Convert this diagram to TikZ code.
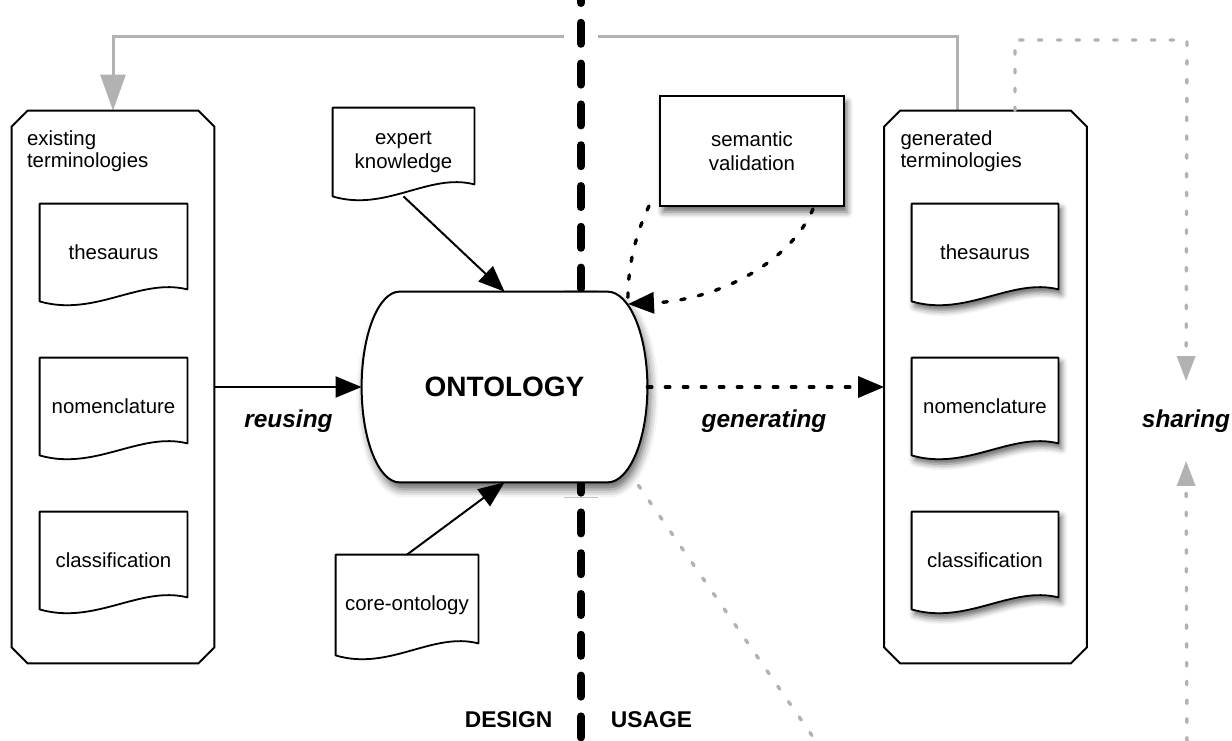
\documentclass[tikz,border=0pt]{standalone}
\usepackage{fontspec}
\setmainfont{Liberation Sans}
\usetikzlibrary{arrows.meta,calc,shadows.blur}
\definecolor{flowgray}{RGB}{178,178,178}
\pgfdeclarelayer{background}
\pgfsetlayers{background,main}
%document symbol round a node
\newcommand{\docshape}[2][]{%
  \draw[docline,#1] (#2.north west) -- (#2.north east) -- ($(#2.south east)+(0,-12)$)
    .. controls ($(#2.south west)!0.68!(#2.south east)+(0,-24)$) and ($(#2.south west)!0.374!(#2.south east)+(0,16)$) .. (#2.south west) -- cycle;}
%chamfered frame round a node
\newcommand{\chamfbox}[1]{%
  \draw[line width=1pt,line join=round] ($(#1.north west)+(16,0)$) -- ($(#1.north east)+(-16,0)$) -- ($(#1.north east)+(0,16)$)
    -- ($(#1.south east)+(0,-16)$) -- ($(#1.south east)+(-16,0)$) -- ($(#1.south west)+(16,0)$)
    -- ($(#1.south west)+(0,-16)$) -- ($(#1.north west)+(0,16)$) -- cycle;}

\begin{document}
\begin{tikzpicture}[x=0.5pt,y=-0.5pt,
  txt/.style={font=\fontsize{10.2pt}{12pt}\selectfont,align=center,inner sep=0pt},
  contlab/.style={font=\fontsize{10.2pt}{11pt}\selectfont,align=left,inner sep=0pt,anchor=north west},
  docbox/.style={txt,minimum width=73.5pt,minimum height=48.5pt},
  docline/.style={line width=0.9pt,fill=white,line join=round},
  docshadow/.style={blur shadow={shadow xshift=1.5pt,shadow yshift=-2.5pt,shadow blur radius=3pt,shadow opacity=60}},
  container/.style={minimum width=101pt,minimum height=276pt,inner sep=0pt},
  tip/.style={-{Triangle[length=13pt,width=10.5pt,fill=black]}},
  graytip/.style={-{Triangle[length=12.5pt,width=9pt,fill=flowgray]}},
  flow/.style={line width=1pt,tip},
  dotflow/.style={line width=1.7pt,line cap=round,dash pattern=on 2.2pt off 6.8pt},
  grayflow/.style={draw=flowgray,line width=1.5pt},
  graydot/.style={draw=flowgray,line width=1.7pt,line cap=round,dash pattern=on 1.8pt off 7.6pt},
  flowlab/.style={font=\fontsize{12.2pt}{14pt}\selectfont\bfseries\itshape},
  sidelab/.style={font=\fontsize{11.4pt}{13pt}\selectfont\bfseries},
  divider/.style={line width=4pt,line cap=round,dash pattern=on 10.5pt off 9.9pt,preaction={draw=white,line width=17pt,solid,line cap=butt}}
]
\useasboundingbox (0,0) rectangle (1232,740);
\clip (0,0) rectangle (1232,740);
%terminologies
\node[container] (lcont) at (113,387) {};
\node[container] (rcont) at (985.5,387) {};
\chamfbox{lcont}
\chamfbox{rcont}
\node[contlab] at ($(lcont.north west)+(15,20)$) {existing\\terminologies};
\node[contlab] at ($(rcont.north west)+(16,20)$) {generated\\terminologies};
\foreach \nm/\txt/\yy in {thes/thesaurus/252.5,nom/nomenclature/406.5,class/classification/560.5}{
  \node[docbox] (l\nm) at (113.5,\yy) {\txt};
  \node[docbox,minimum width=73pt] (r\nm) at (985,\yy) {\txt};
}
%design side
\node[docbox,minimum width=70.5pt,minimum height=44pt] (expert) at (403.5,152) {expert\\knowledge};
\node[docbox,minimum width=71pt,minimum height=50pt] (core) at (407,605) {core-ontology};
\node[minimum width=142.5pt,minimum height=95pt,inner sep=0pt,font=\fontsize{14pt}{16pt}\selectfont\bfseries] (onto) at (504.5,387) {ONTOLOGY};
%usage side
\node[txt,draw,line width=1pt,fill=white,minimum width=92pt,minimum height=55pt,
  blur shadow={shadow xshift=1.5pt,shadow yshift=-3pt,shadow blur radius=3pt,shadow opacity=60}] (sem) at (752,151) {semantic\\validation};
%labels
\node[flowlab] (reuse) at (288.5,421) {reusing};
\node[flowlab] (gen) at (764,421) {generating};
\node[flowlab] (sharing) at (1186,421) {sharing};
\node[sidelab] (design) at (508.5,720) {DESIGN};
\node[sidelab] (usage) at (651.5,720) {USAGE};
\coordinate (semin) at (628,304);
\coordinate (shcorner) at (1187,40);
\coordinate (shbot) at (1187,760);
\coordinate (divtop) at (581,-18);
\coordinate (divbot) at (581,760);
\coordinate (offdown) at (829,760);

\begin{pgfonlayer}{background}
\draw[grayflow,-{Triangle[length=18pt,width=12.5pt,fill=flowgray]}] ($(rcont.north)+(-28.5,0)$) |- ($(lcont.north)+(0,-74)$) -- (lcont.north);
\draw[divider] (divtop) -- (divbot);
%ontology outline
\draw[line width=1pt,fill=white,blur shadow={shadow xshift=1.5pt,shadow yshift=-3.5pt,shadow blur radius=4pt,shadow opacity=60}]
  ($(onto.north west)+(38,0)$) -- ($(onto.north east)+(-40,0)$)
  .. controls +(22.1,0) and +(0,-52.5) .. (onto.east)
  .. controls +(0,52.5) and +(22.1,0) .. ($(onto.south east)+(-40,0)$)
  -- ($(onto.south west)+(38,0)$)
  .. controls +(-21,0) and +(0,52.5) .. (onto.west)
  .. controls +(0,-52.5) and +(-21,0) .. ($(onto.north west)+(38,0)$) -- cycle;
\foreach \nm in {thes,nom,class}{
  \docshape{l\nm}
  \docshape[docshadow]{r\nm}
}
\docshape{expert}
\docshape{core}
\end{pgfonlayer}

%connectors
\draw[flow] (lcont.east) -- (onto.west);
\draw[flow] (expert.south) -- (onto.north);
\draw[flow] (core.north) -- (onto.south);
\draw[dotflow,tip] (onto.east) -- (rcont.west);
\draw[dotflow] ($(sem.south west)+(-10,-1)$) .. controls +(-12,25) and +(-1,-39) .. (semin);
\draw[dotflow,tip] ($(sem.south east)+(-32,2)$) .. controls +(-22,52) and +(92,-4) .. (semin);
\draw[graydot,graytip,shorten >=10.75pt] ($(rcont.north)+(29.5,0)$) |- (shcorner) -- (sharing.north);
\draw[graydot,graytip,shorten >=10.75pt] (shbot) -- (sharing.south);
\draw[graydot] ($(onto.south east)+(-9,3)$) -- (offdown);
\end{tikzpicture}
\end{document}
